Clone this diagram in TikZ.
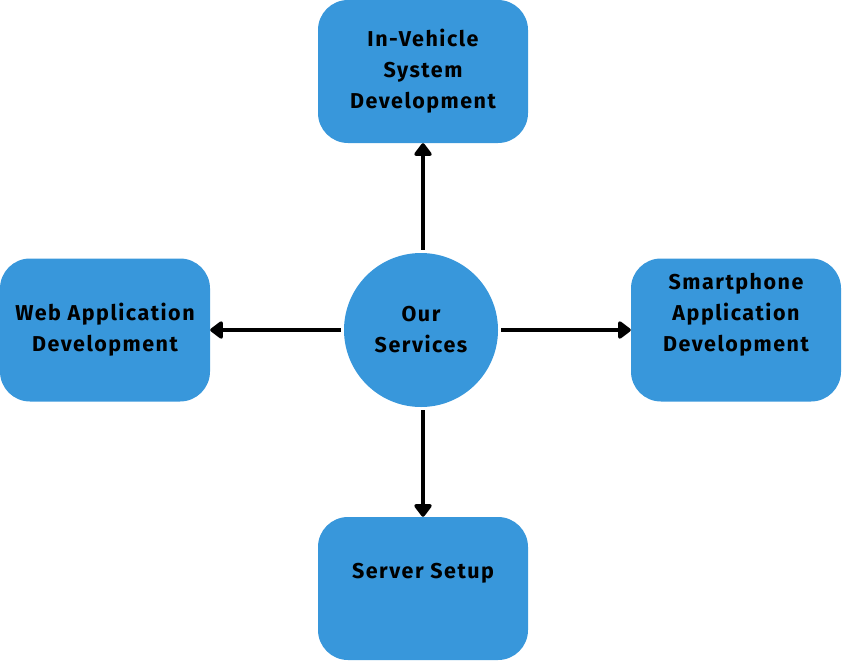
\documentclass[tikz,border=0pt]{standalone}
\usepackage{fontspec}
\setmainfont{Fira Sans}[LetterSpace=7]
\usetikzlibrary{arrows.meta}
\definecolor{serviceblue}{RGB}{56,151,219}
\begin{document}
\begin{tikzpicture}[x=1pt,y=-1pt]

        \tikzstyle{service} = [rectangle, rounded corners=30pt, minimum width=210pt, minimum height=143pt, text centered, align=center, draw=none, fill=serviceblue, font=\fontsize{21.5}{31}\selectfont\bfseries]
        \tikzstyle{raised} = [text depth=35pt]
        \tikzstyle{hub} = [circle, minimum size=154pt, inner sep=0pt, align=center, draw=none, fill=serviceblue, font=\fontsize{21.5}{31}\selectfont\bfseries]
        \tikzstyle{arrow} = [line width=4pt, -{Triangle[length=14pt,width=20pt,round]}, shorten <=3pt]
        \useasboundingbox (0,0) rectangle (842,661);
        \node (hub) [hub] at (421,330) {Our\\Services};
        \node (vehicle) [service] at (423,71.5) {In-Vehicle\\System\\Development};
        \node (web) [service] at (105,330) {Web Application\\Development};
        \node (phone) [service, raised] at (736,330) {Smartphone\\Application\\Development};
        \node (server) [service, raised] at (423,588.5) {Server Setup};

        % Arrows
        \draw [arrow] (hub.north -| vehicle) -- (vehicle.south);
        \draw [arrow] (hub.west) -- (web.east);
        \draw [arrow] (hub.east) -- (phone.west);
        \draw [arrow] (hub.south -| server) -- (server.north);

    \end{tikzpicture}
\end{document}
